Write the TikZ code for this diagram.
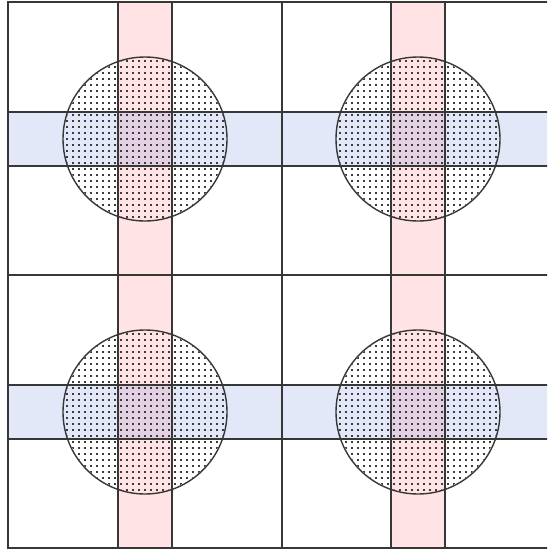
\documentclass[tikz,border=0pt]{standalone}
\definecolor{linec}{RGB}{55,55,55}
\definecolor{dotc}{RGB}{60,60,60}
\definecolor{pinkc}{RGB}{255,0,20}
\definecolor{bluec}{RGB}{60,90,210}
\tikzset{
  gridline/.style={draw=linec, line width=1.4pt},
  pinkband/.style={fill=pinkc, fill opacity=0.11},
  blueband/.style={fill=bluec, fill opacity=0.14},
  ring/.style={draw=linec, line width=1.4pt},
}
\begin{document}
\begin{tikzpicture}[x=1pt,y=-1pt]
\useasboundingbox (0,0) rectangle (547,551);
\clip (0,0) rectangle (547,551);
% bands
\foreach \bx in {118,391} {
  \fill[pinkband] (\bx,2) rectangle (\bx+54,548);
}
\foreach \by in {112,385} {
  \fill[blueband] (8,\by) rectangle (556,\by+54);
}
% dots inside circles
\foreach \cx/\cy in {145/139,418/139,145/412,418/412} {
  \begin{scope}
    \clip (\cx,\cy) circle (81);
    \foreach \i in {-14,...,14} {
      \foreach \j in {-14,...,14} {
        \fill[dotc] (\cx+6*\i-1,\cy+6*\j-1) rectangle ++(1.6,1.6);
      }
    }
  \end{scope}
}
% band outlines
\foreach \bx in {118,391} {
  \draw[gridline] (\bx,2) -- (\bx,548);
  \draw[gridline] (\bx+54,2) -- (\bx+54,548);
}
\foreach \by in {112,385} {
  \draw[gridline] (8,\by) -- (556,\by);
  \draw[gridline] (8,\by+54) -- (556,\by+54);
}
% grid frame
\draw[gridline] (8,2) rectangle (556,548);
\draw[gridline] (282,2) -- (282,548);
\draw[gridline] (8,275) -- (556,275);
% circles
\foreach \cx/\cy in {145/139,418/139,145/412,418/412} {
  \draw[ring] (\cx,\cy) circle (82);
}
\end{tikzpicture}
\end{document}
